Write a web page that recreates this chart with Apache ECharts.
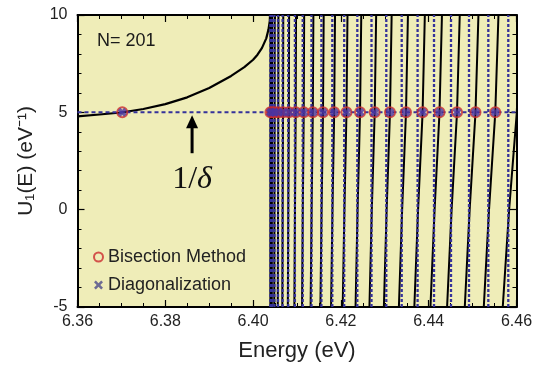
<!DOCTYPE html>
<html>
<head>
<meta charset="utf-8">
<script src="https://cdn.jsdelivr.net/npm/echarts@6/dist/echarts.min.js"></script>
<style>
html,body{margin:0;padding:0;background:#fff;}
#chart{width:538px;height:367px;}
</style>
</head>
<body>
<div id="chart"></div>
<script>
// ---- data ----
const xMin = 6.36, xMax = 6.46, xStep = 0.02;
const yMin = -5, yMax = 10, yStep = 5;
const invDelta = 5;            // the 1/delta level
const nLabel = 'N= 201';

// smooth curve left of the first pole
const leftE = [6.3600, 6.3650, 6.3700, 6.3750, 6.3800, 6.3850, 6.3900, 6.3950, 6.3980, 6.4000, 6.4010, 6.4020, 6.4030, 6.4035, 6.4038, 6.40392];
const leftU = [4.79, 4.89, 4.99, 5.17, 5.42, 5.77, 6.25, 6.87, 7.32, 7.70, 7.96, 8.30, 8.80, 9.25, 9.70, 10.4];

// pole positions (vertical dashed lines)
const poles = [6.40394, 6.40428, 6.40485, 6.40567, 6.40672, 6.40800, 6.40952, 6.41130, 6.41330, 6.41556, 6.41804, 6.42075, 6.42374, 6.42697, 6.43034, 6.43385, 6.43747, 6.44121, 6.44508, 6.44918, 6.45358, 6.45813];
// steep branches: energy where each branch is at U=-5, U=0, U=5 and U=10
const branchU = [-5, 0, 5, 10];
const branchAtM5 = [6.40393, 6.40426, 6.40482, 6.40562, 6.40666, 6.40791, 6.40940, 6.41115, 6.41310, 6.41533, 6.41776, 6.42041, 6.42334, 6.42650, 6.42979, 6.43321, 6.43673, 6.44040, 6.44419, 6.44822, 6.45255, 6.45687];
const branchAt0  = [6.40394, 6.40428, 6.40486, 6.40568, 6.40673, 6.40801, 6.40954, 6.41132, 6.41333, 6.41560, 6.41808, 6.42080, 6.42380, 6.42704, 6.43042, 6.43395, 6.43758, 6.44134, 6.44522, 6.44933, 6.45374, 6.45832];
const branchAt5  = [6.40395, 6.40431, 6.40490, 6.40574, 6.40682, 6.40814, 6.40970, 6.41153, 6.41360, 6.41592, 6.41847, 6.42127, 6.42436, 6.42770, 6.43118, 6.43483, 6.43861, 6.44246, 6.44645, 6.45066, 6.45517, 6.46007];
const branchAt10 = [6.40396, 6.40432, 6.40492, 6.40577, 6.40687, 6.40820, 6.40978, 6.41163, 6.41373, 6.41608, 6.41866, 6.42150, 6.42464, 6.42803, 6.43156, 6.43527, 6.43912, 6.44302, 6.44707, 6.45133, 6.45589, 6.46094];

// roots found (both methods agree)
const rootsBisection = [6.3702, 6.40395, 6.40431, 6.40490, 6.40574, 6.40682, 6.40814, 6.40970, 6.41153, 6.41360, 6.41592, 6.41847, 6.42127, 6.42436, 6.42770, 6.43118, 6.43483, 6.43861, 6.44246, 6.44645, 6.45066, 6.45517];
const rootsDiag      = [6.3702, 6.40395, 6.40431, 6.40490, 6.40574, 6.40682, 6.40814, 6.40970, 6.41153, 6.41360, 6.41592, 6.41847, 6.42127, 6.42436, 6.42770, 6.43118, 6.43483, 6.43861, 6.44246, 6.44645, 6.45066, 6.45517];

// annotation anchor (arrow and 1/delta label)
const arrowE = 6.3861, arrowTipU = 4.85, arrowTailU = 2.9, deltaLabelU = 1.55;

// ---- chart ----
const FONT = 'Liberation Sans, Arial, Helvetica, sans-serif';
const dashBlue = '#35329a';
const xPath = 'path://M0,3 L3,0 L5,2 L7,0 L10,3 L8,5 L10,7 L7,10 L5,8 L3,10 L0,7 L2,5 Z';
const xPathThin = 'path://M0,2 L2,0 L5,3 L8,0 L10,2 L7,5 L10,8 L8,10 L5,7 L2,10 L0,8 L3,5 Z';

const chart = echarts.init(document.getElementById('chart'), null, {renderer: 'canvas'});

const axisCommonX = {
  type: 'value', min: xMin, max: xMax, interval: xStep,
  axisLine: {show: true, onZero: false, lineStyle: {color: '#000', width: 2}},
  axisTick: {show: true, inside: true, length: 7, lineStyle: {color: '#000', width: 1.2}},
  minorTick: {show: true, splitNumber: 4, length: 4, lineStyle: {color: '#000', width: 1}},
  splitLine: {show: false}
};
const axisCommonY = {
  type: 'value', min: yMin, max: yMax, interval: yStep,
  axisLine: {show: true, onZero: false, lineStyle: {color: '#000', width: 2}},
  axisTick: {show: true, inside: true, length: 7, lineStyle: {color: '#000', width: 1.2}},
  minorTick: {show: true, splitNumber: 5, length: 4, lineStyle: {color: '#000', width: 1}},
  splitLine: {show: false}
};

const series = [];
// left smooth curve
series.push({
  type: 'line', name: 'U-left', data: leftE.map((e, i) => [e, leftU[i]]),
  showSymbol: false, smooth: false, clip: true, z: 3,
  lineStyle: {color: '#000', width: 2.2}
});
// steep branches
poles.forEach((p, i) => {
  series.push({
    type: 'line', name: 'branch' + i,
    data: [[branchAtM5[i], branchU[0]], [branchAt0[i], branchU[1]], [branchAt5[i], branchU[2]], [branchAt10[i], branchU[3]]],
    showSymbol: false, clip: true, z: 3,
    lineStyle: {color: '#000', width: 2}
  });
});
// dashed vertical guide lines at the poles
poles.forEach((p, i) => {
  series.push({
    type: 'line', name: 'pole' + i, data: [[p, yMin], [p, yMax]],
    showSymbol: false, silent: true, z: 4,
    lineStyle: {type: [3, 2], color: dashBlue, width: 2.3}
  });
});
// dashed horizontal 1/delta level
series.push({
  type: 'line', name: 'level', data: [[xMin, invDelta], [xMax, invDelta]],
  showSymbol: false, silent: true, z: 4,
  lineStyle: {type: [4, 3], color: dashBlue, width: 2}
});
// roots
series.push({
  type: 'scatter', name: 'Bisection Method', z: 5,
  data: rootsBisection.map(e => [e, invDelta]),
  symbol: 'circle', symbolSize: 10,
  itemStyle: {color: 'rgba(0,0,0,0)', borderColor: '#cc2a2e', borderWidth: 2}
});
series.push({
  type: 'scatter', name: 'Diagonalization', z: 6,
  data: rootsDiag.map(e => [e, invDelta]),
  symbol: xPath, symbolSize: 9,
  itemStyle: {color: '#4b35a0'}
});

chart.setOption({
  animation: false,
  backgroundColor: '#ffffff',
  grid: {left: 77.5, right: 21.5, top: 15, bottom: 59, show: true, backgroundColor: '#efedb8', borderWidth: 0},
  xAxis: [
    Object.assign({}, axisCommonX, {
      position: 'bottom',
      axisLabel: {formatter: v => v.toFixed(2), fontSize: 16, color: '#222', margin: 7, fontFamily: FONT},
      name: 'Energy (eV)', nameLocation: 'middle', nameGap: 33,
      nameTextStyle: {fontSize: 22, color: '#222', fontFamily: FONT}
    }),
    Object.assign({}, axisCommonX, {position: 'top', axisLabel: {show: false}})
  ],
  yAxis: [
    Object.assign({}, axisCommonY, {
      position: 'left',
      axisLabel: {fontSize: 16, color: '#222', margin: 10, fontFamily: FONT},
      name: 'U\u2081(E) (eV\u207B\u00B9)', nameLocation: 'middle', nameGap: 41, nameRotate: 90,
      nameTextStyle: {fontSize: 21, color: '#222', fontFamily: FONT}
    }),
    Object.assign({}, axisCommonY, {position: 'right', axisLabel: {show: false}})
  ],
  legend: {
    orient: 'vertical', left: 88, top: 242, itemGap: 8,
    itemWidth: 9, itemHeight: 9,
    textStyle: {fontSize: 18, color: '#222', fontFamily: FONT, lineHeight: 20},
    selectedMode: false,
    data: [
      {name: 'Bisection Method', icon: 'circle', itemStyle: {color: 'rgba(0,0,0,0)', borderColor: '#cc2a2e', borderWidth: 2}},
      {name: 'Diagonalization', icon: xPathThin, itemStyle: {color: '#4b4a8a'}}
    ]
  },
  series: series
});

// annotations placed from data coordinates
const tip = chart.convertToPixel({xAxisIndex: 0, yAxisIndex: 0}, [arrowE, arrowTipU]);
const tail = chart.convertToPixel({xAxisIndex: 0, yAxisIndex: 0}, [arrowE, arrowTailU]);
const lab = chart.convertToPixel({xAxisIndex: 0, yAxisIndex: 0}, [arrowE, deltaLabelU]);
const headH = 13, headW = 12;
chart.setOption({
  graphic: [
    {type: 'text', left: 97, top: 32, z: 10,
     style: {text: nLabel, font: '18px ' + FONT, fill: '#1a1a1a'}},
    {type: 'line', z: 10, shape: {x1: tail[0], y1: tail[1], x2: tip[0], y2: tip[1] + headH - 1},
     style: {stroke: '#000', lineWidth: 3}},
    {type: 'polygon', z: 10,
     shape: {points: [[tip[0], tip[1]], [tip[0] - headW / 2, tip[1] + headH], [tip[0] + headW / 2, tip[1] + headH]]},
     style: {fill: '#000'}},
    {type: 'text', x: lab[0], y: lab[1], z: 10,
     style: {text: '{a|1/}{b|\u03B4}', align: 'center', verticalAlign: 'middle',
       rich: {a: {fontSize: 32, fontFamily: 'Liberation Serif, Times New Roman, serif', fill: '#111'},
              b: {fontSize: 32, fontFamily: 'Liberation Serif, Times New Roman, serif', fontStyle: 'italic', fill: '#111'}}}}
  ]
});
</script>
</body>
</html>
